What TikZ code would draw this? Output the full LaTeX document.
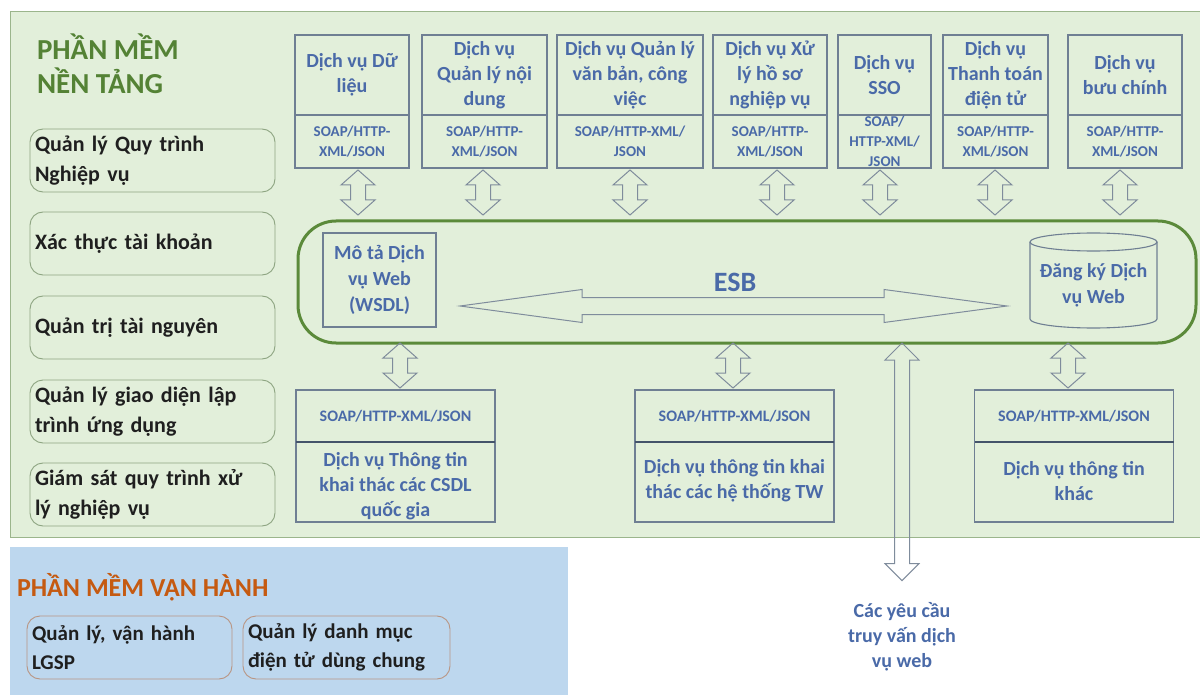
\documentclass[tikz,border=0pt]{standalone}
\usepackage{fontspec}
\setmainfont{Carlito}
\usetikzlibrary{calc}

\definecolor{panelgreen}{HTML}{E2EFDA}
\definecolor{panelline}{HTML}{9BB58C}
\definecolor{esbgreen}{HTML}{5B8A3A}
\definecolor{titlegreen}{HTML}{548235}
\definecolor{opblue}{HTML}{BDD7EE}
\definecolor{orangetitle}{HTML}{C55A11}
\definecolor{svcblue}{HTML}{4A6AA8}
\definecolor{frameline}{HTML}{6F7F93}
\definecolor{divline}{HTML}{44546A}
\definecolor{arrowline}{HTML}{7F8C9C}
\definecolor{roundgreen}{HTML}{8DA581}
\definecolor{roundorange}{HTML}{B99583}
\definecolor{darktext}{HTML}{1F1F1F}

\tikzset{
  every node/.style={inner sep=0pt, outer sep=0pt},
  frame/.style={draw=frameline, line width=1.1pt, rectangle},
  svctitle/.style={text=svcblue, font=\bfseries\fontsize{20}{25}\selectfont, align=center},
  prototxt/.style={text=svcblue, font=\bfseries\fontsize{15}{20}\selectfont, align=center},
  protosmall/.style={text=svcblue, font=\bfseries\fontsize{16}{19}\selectfont},
  funcbox/.style={draw=roundgreen, line width=0.9pt, rounded corners=13pt, fill=panelgreen,
    minimum width=245, minimum height=63, text width=235, inner xsep=5pt, align=left,
    text=darktext, font=\bfseries\fontsize{22}{30}\selectfont},
  opbox/.style={draw=roundorange, line width=0.9pt, rounded corners=13pt, fill=opblue,
    minimum height=63, inner xsep=5pt, align=left,
    text=darktext, font=\bfseries\fontsize{21}{29}\selectfont},
  blockarrow/.style={draw=arrowline, line width=1pt, line join=miter},
}

% vertical hollow double arrow between two points (top tip, bottom tip, head length)
\newcommand\vdarrow[3]{%
  \draw[blockarrow] let \p1=#1, \p2=#2 in
    (\x1,\y1) -- (\x1+17pt,\y1-#3pt) -- (\x1+7.5pt,\y1-#3pt) -- (\x2+7.5pt,\y2+#3pt)
    -- (\x2+17pt,\y2+#3pt) -- (\x2,\y2) -- (\x2-17pt,\y2+#3pt) -- (\x2-7.5pt,\y2+#3pt)
    -- (\x1-7.5pt,\y1-#3pt) -- (\x1-17pt,\y1-#3pt) -- cycle;}

% upper service: name, centre x, width, title, protocol, arrow offset
\newcommand\svcbox[6]{%
  \node[frame, minimum width=#3, minimum height=80] (#1) at (#2,75) {};
  \node[frame, minimum width=#3, minimum height=53] (#1p) at (#2,141.5) {};
  \node[svctitle] (#1t) at (#1.center) {#4};
  \node[prototxt] (#1pt) at (#1p.center) {#5};
  \coordinate (#1a) at ($(#1p.south)+(#6,0)$);
  \vdarrow{($(#1a)+(0,2)$)}{($(#1a |- esb.north)+(0,-6)$)}{15}}

% lower information service: name, centre x, title, title y, arrow x
\newcommand\infobox[5]{%
  \node[frame, minimum width=199, minimum height=52] (#1p) at (#2,416) {};
  \node[frame, minimum width=199, minimum height=80] (#1) at (#2,482) {};
  \draw[divline, line width=2pt] (#1.north west) -- (#1.north east);
  \node[protosmall] (#1pt) at (#1p.center) {SOAP/HTTP-XML/JSON};
  \node[svctitle] (#1t) at (#2,#4) {#3};
  \coordinate (#1a) at (#5,0);
  \vdarrow{($(#1a |- esb.south)+(0,0)$)}{($(#1a |- #1p.north)+(0,-2)$)}{15}}

\begin{document}
\begin{tikzpicture}[x=1pt, y=-1pt]
\useasboundingbox (0,0) rectangle (1200,695);
\fill[white] (0,0) rectangle (1200,695);

% platform panel
\node[fill=panelgreen, draw=panelline, line width=1pt, minimum width=1192, minimum height=525,
  anchor=north west] (nen) at (10,12) {};
\node[anchor=west, align=left, text=titlegreen, font=\bfseries\fontsize{29}{34}\selectfont]
  (nentitle) at (37,64) {PHẦN MỀM\\ NỀN TẢNG};

% platform functions
\node[funcbox] (f1) at (152.5,160.5) {Quản lý Quy trình\\Nghiệp vụ};
\node[funcbox] (f2) at (152.5,243.5) {Xác thực tài khoản};
\node[funcbox] (f3) at (152.5,327.5) {Quản trị tài nguyên};
\node[funcbox] (f4) at (152.5,411.5) {Quản lý giao diện lập\\trình ứng dụng};
\node[funcbox] (f5) at (152.5,494.5) {Giám sát quy trình xử\\lý nghiệp vụ};

% service bus
\node[draw=esbgreen, line width=3pt, rounded corners=38pt, minimum width=898, minimum height=122]
  (esb) at (747,282) {};
\node[text=svcblue, font=\bfseries\fontsize{28}{34}\selectfont] (esbl) at (735,282) {ESB};

\node[frame, minimum width=113, minimum height=94] (wsdl) at (379.5,280) {};
\node[svctitle, font=\bfseries\fontsize{20}{26}\selectfont] (wsdlt) at (wsdl.center)
  {Mô tả Dịch\\vụ Web\\(WSDL)};

% registry cylinder
\node[minimum width=127, minimum height=95] (reg) at (1093.5,280.5) {};
\draw[frame] ($(reg.north west)+(0,9)$) -- ($(reg.south west)+(0,-9)$)
  arc[start angle=180, end angle=0, x radius=63.5, y radius=9] -- ($(reg.north east)+(0,9)$);
\draw[frame] ($(reg.north)+(0,9)$) ellipse[x radius=63.5, y radius=9];
\node[svctitle, font=\bfseries\fontsize{20}{26}\selectfont] (regt) at (1093.5,285) {Đăng ký Dịch\\vụ Web};

% bus arrow between description and registry
\coordinate (hl) at ($(wsdl.east)+(24,26)$);
\coordinate (hr) at ($(reg.west)+(-23,25.5)$);
\draw[blockarrow] let \p1=(hl), \p2=(hr) in
  (\x1,\y1) -- (\x1+122pt,\y1+16.5pt) -- (\x1+122pt,\y1+8.5pt) -- (\x2-123pt,\y2+8.5pt)
  -- (\x2-123pt,\y2+16.5pt) -- (\x2,\y2) -- (\x2-123pt,\y2-16.5pt) -- (\x2-123pt,\y2-8.5pt)
  -- (\x1+122pt,\y1-8.5pt) -- (\x1+122pt,\y1-16.5pt) -- cycle;

% upper services
\svcbox{s1}{352}{114}{Dịch vụ Dữ\\liệu}{SOAP/HTTP-\\XML/JSON}{6}
\svcbox{s2}{484.5}{125}{Dịch vụ\\Quản lý nội\\dung}{SOAP/HTTP-\\XML/JSON}{-1.5}
\svcbox{s3}{630}{146}{Dịch vụ Quản lý\\văn bản, công\\việc}{SOAP/HTTP-XML/\\JSON}{0}
\svcbox{s4}{770}{114}{Dịch vụ Xử\\lý hồ sơ\\nghiệp vụ}{SOAP/HTTP-\\XML/JSON}{7}
\svcbox{s5}{884.5}{93}{Dịch vụ\\SSO}{SOAP/\\HTTP-XML/\\JSON}{-4.5}
\svcbox{s6}{995.5}{105}{Dịch vụ\\Thanh toán\\điện tử}{SOAP/HTTP-\\XML/JSON}{-0.5}
\svcbox{s7}{1125}{114}{Dịch vụ\\bưu chính}{SOAP/HTTP-\\XML/JSON}{-5}

% lower information services
\infobox{b1}{395.5}{Dịch vụ Thông tin\\khai thác các CSDL\\quốc gia}{486}{400}
\infobox{b2}{734.5}{Dịch vụ thông tin khai\\thác các hệ thống TW}{481}{733}
\infobox{b3}{1074}{Dịch vụ thông tin\\khác}{481}{1068}

% operation panel
\node[fill=opblue, minimum width=558, minimum height=150, anchor=north west] (vh) at (10,547) {};
\node[anchor=west, text=orangetitle, font=\bfseries\fontsize{26}{30}\selectfont]
  (vhtitle) at (17,587) {PHẦN MỀM VẬN HÀNH};
\node[opbox, minimum width=205, text width=195] (o1) at (129.5,647.5) {Quản lý, vận hành\\LGSP};
\node[opbox, minimum width=207, text width=197] (o2) at (346.5,647.5) {Quản lý danh mục\\điện tử dùng chung};

% web service requests
\node[svctitle] (req) at (902,637) {Các yêu cầu\\truy vấn dịch\\vụ web};
\coordinate (qa) at (902,0);
\vdarrow{($(qa |- esb.south)$)}{($(req.north)+(0,-22)$)}{17}

\end{tikzpicture}
\end{document}
